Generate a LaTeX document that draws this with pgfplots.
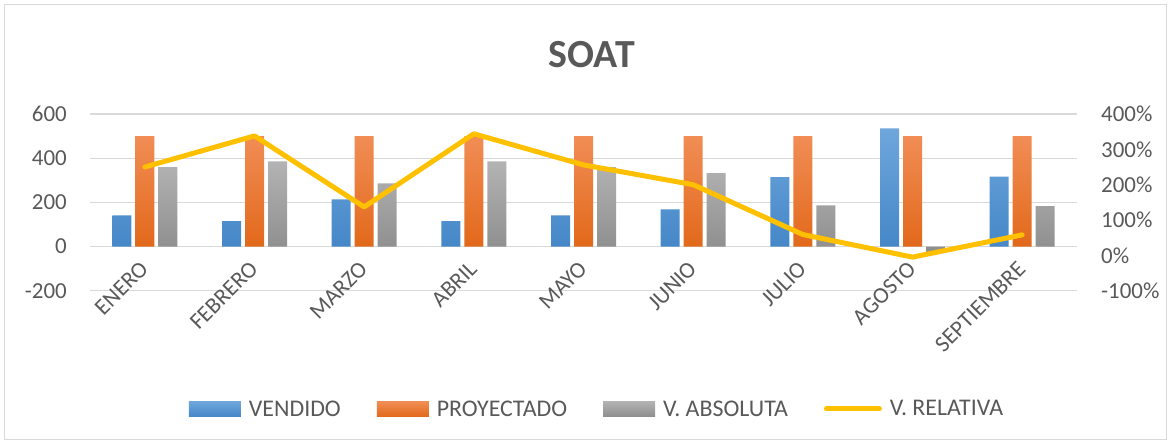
\documentclass[border=0pt]{standalone}
\usepackage{pgfplots}
\pgfplotsset{compat=1.18}
\usepackage{fontspec}
\setmainfont{Carlito}
\definecolor{txt}{HTML}{595959}
\definecolor{gridc}{HTML}{D9D9D9}
\definecolor{blueT}{HTML}{6FA7DC}
\definecolor{blueB}{HTML}{4587C8}
\definecolor{oranT}{HTML}{F18D55}
\definecolor{oranB}{HTML}{E2691B}
\definecolor{grayT}{HTML}{B3B3B3}
\definecolor{grayB}{HTML}{8E8E8E}
\definecolor{yel}{HTML}{FFC000}
\newcommand{\lfont}{\fontsize{23}{27}\selectfont}
\newcommand{\gfont}{\fontsize{24}{28}\selectfont}
\begin{document}
\begin{tikzpicture}
\path[use as bounding box] (0bp,0bp) rectangle (1171bp,444bp);
\draw[gridc, line width=1bp] (4.5bp,4.5bp) rectangle (1166.5bp,439.5bp);
\node[text=txt, font=\fontsize{40}{48}\selectfont\bfseries] at (591.7bp,389bp) {SOAT};
\begin{axis}[
  at={(90bp,153.3bp)}, anchor=south west,
  width=987bp, height=176.7bp, scale only axis,
  xmin=-0.5, xmax=8.5, ymin=-200, ymax=600,
  ytick={-200,0,200,400,600},
  xtick={0,1,2,3,4,5,6,7,8},
  xticklabels={ENERO,FEBRERO,MARZO,ABRIL,MAYO,JUNIO,JULIO,AGOSTO,SEPTIEMBRE},
  ybar=4bp, bar width=19bp,
  axis line style={draw=none}, major tick length=0pt, tick style={draw=none},
  ymajorgrids, grid style={gridc, line width=1.2bp},
  /pgf/number format/assume math mode=true,
  ticklabel style={font=\lfont, text=txt},
  yticklabel style={inner sep=0pt}, yticklabel shift=23bp,
  xticklabel style={xshift=-6bp, rotate=45, anchor=north east, inner sep=0pt},
  xticklabel shift=-31bp,
  legend style={at={(0.5137,-0.6695)}, anchor=center, draw=none, fill=none,
    legend columns=4, font=\gfont, text=txt,
    /tikz/every odd column/.append style={column sep=6bp},
    /tikz/every even column/.append style={column sep=34bp}},
  legend cell align=left,
]
\addplot[draw=none, top color=blueT, bottom color=blueB,
  legend image code/.code={\shade[top color=blueT, bottom color=blueB] (0bp,-7.5bp) rectangle (52bp,7.5bp);}]
  coordinates {(0,141) (1,115) (2,214) (3,115) (4,141) (5,168) (6,314) (7,535) (8,317)};
\addlegendentry{VENDIDO}
\addplot[draw=none, top color=oranT, bottom color=oranB,
  legend image code/.code={\shade[top color=oranT, bottom color=oranB] (0bp,-7.5bp) rectangle (52bp,7.5bp);}]
  coordinates {(0,500) (1,500) (2,500) (3,500) (4,500) (5,500) (6,500) (7,500) (8,500)};
\addlegendentry{PROYECTADO}
\addplot[draw=none, top color=grayT, bottom color=grayB,
  legend image code/.code={\shade[top color=grayT, bottom color=grayB] (0bp,-7.5bp) rectangle (52bp,7.5bp);}]
  coordinates {(0,359) (1,385) (2,286) (3,385) (4,359) (5,332) (6,186) (7,-25) (8,183)};
\addlegendentry{V. ABSOLUTA}
\addlegendimage{legend image code/.code={\draw[yel, line width=5bp, line cap=round] (2.5bp,0bp) -- (55.5bp,0bp);}}
\addlegendentry{V. RELATIVA}
\end{axis}
\begin{axis}[
  at={(90bp,153.3bp)}, anchor=south west,
  width=987bp, height=176.7bp, scale only axis,
  xmin=-0.5, xmax=8.5, ymin=-100, ymax=400,
  ytick={-100,0,100,200,300,400},
  axis x line=none, axis y line*=right,
  axis line style={draw=none}, major tick length=0pt, tick style={draw=none},
  /pgf/number format/assume math mode=true,
  ticklabel style={font=\lfont, text=txt},
  yticklabel style={inner sep=0pt, anchor=west}, yticklabel shift=24bp,
  yticklabel={\pgfmathprintnumber{\tick}\%},
]
\addplot[yel, line width=5bp, line join=round, line cap=round]
  coordinates {(0,250) (1,338) (2,137) (3,344) (4,256) (5,200) (6,59) (7,-5) (8,58)};
\end{axis}
\end{tikzpicture}
\end{document}
